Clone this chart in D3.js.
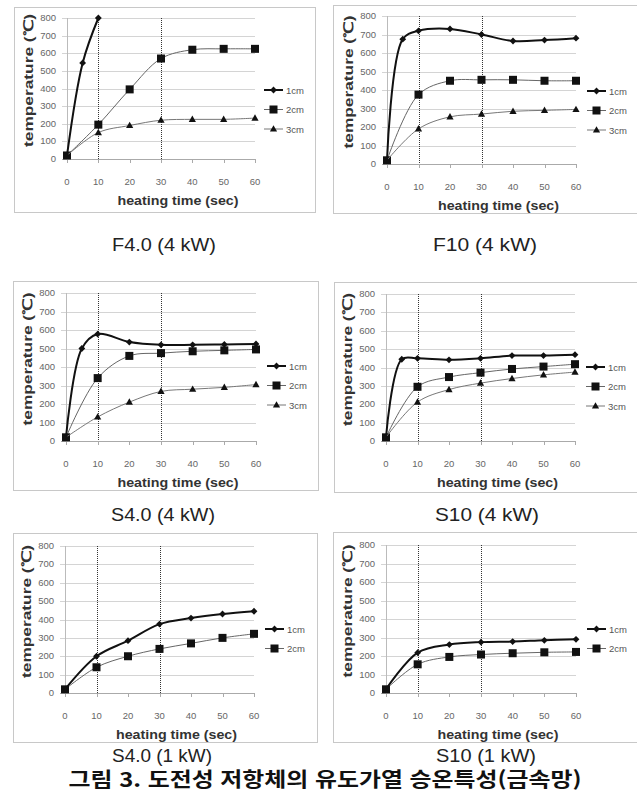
<!DOCTYPE html>
<html lang="ko">
<head>
<meta charset="UTF-8">
<title>도전성 저항체의 유도가열 승온특성</title>
<script src="https://cdnjs.cloudflare.com/ajax/libs/d3/7.8.5/d3.min.js"></script>
<style>
    body { margin: 0; background: #fff; }
    svg { display: block; }
    .tick-label { font-family: "Liberation Sans", Arial, sans-serif; font-size: 9.5px; fill: #666; }
    .axis-title { font-family: "Liberation Sans", Arial, sans-serif; font-size: 12.5px; font-weight: bold; fill: #333; }
    .legend-label { font-family: "Liberation Sans", Arial, sans-serif; font-size: 9.5px; fill: #555; }
    .caption { font-family: "Liberation Sans", Arial, sans-serif; font-size: 18px; fill: #222; }
</style>
</head>
<body>
<svg id="chart" width="637" height="792"></svg>
<script>
    // time axis (sec)
    var timesFast = [0, 5, 10, 20, 30, 40, 50, 60];
    var times = [0, 10, 20, 30, 40, 50, 60];
    var yTicks = [0, 100, 200, 300, 400, 500, 600, 700, 800];
    var xTicks = [0, 10, 20, 30, 40, 50, 60];
    var seriesNames = ["1cm", "2cm", "3cm"];

    // F4.0 (4 kW)
    var f40_4kw_1cm = [20, 545, 800];
    var f40_4kw_2cm = [20, 195, 395, 570, 620, 625, 625];
    var f40_4kw_3cm = [20, 150, 190, 220, 225, 225, 232];
    // F10 (4 kW)
    var f10_4kw_1cm = [20, 675, 720, 730, 700, 665, 670, 680];
    var f10_4kw_2cm = [20, 375, 450, 455, 455, 450, 450];
    var f10_4kw_3cm = [20, 190, 255, 270, 285, 290, 295];
    // S4.0 (4 kW)
    var s40_4kw_1cm = [20, 500, 578, 535, 520, 520, 522, 525];
    var s40_4kw_2cm = [20, 340, 460, 475, 485, 490, 495];
    var s40_4kw_3cm = [20, 130, 210, 268, 280, 290, 305];
    // S10 (4 kW)
    var s10_4kw_1cm = [20, 445, 450, 442, 450, 465, 465, 470];
    var s10_4kw_2cm = [20, 295, 348, 372, 392, 405, 418];
    var s10_4kw_3cm = [20, 212, 280, 315, 340, 360, 375];
    // S4.0 (1 kW)
    var s40_1kw_1cm = [20, 200, 285, 375, 408, 430, 445];
    var s40_1kw_2cm = [20, 140, 200, 240, 270, 300, 322];
    // S10 (1 kW)
    var s10_1kw_1cm = [20, 218, 262, 275, 278, 285, 290];
    var s10_1kw_2cm = [20, 155, 195, 208, 215, 220, 222];

    var svg = d3.select("#chart");

    function pts(xs, ys) {
        return ys.map(function (v, i) { return [xs[i], v]; });
    }

    // each panel: frame box, plot range in pixels, legend spot, caption
    var panels = [
        {box: [14, 7, 301, 205], px: [67, 255], py: [159, 18], leg: [264, 90],
            cap: "F4.0  (4 kW)", capPos: [164, 251],
            series: [pts(timesFast, f40_4kw_1cm), pts(times, f40_4kw_2cm), pts(times, f40_4kw_3cm)]},
        {box: [333, 5, 310, 208], px: [387, 576], py: [164, 16], leg: [587, 91],
            cap: "F10  (4 kW)", capPos: [485, 251],
            series: [pts(timesFast, f10_4kw_1cm), pts(times, f10_4kw_2cm), pts(times, f10_4kw_3cm)]},
        {box: [13, 281, 305, 209], px: [66, 256], py: [441, 293], leg: [267, 366],
            cap: "S4.0  (4 kW)", capPos: [163, 521],
            series: [pts(timesFast, s40_4kw_1cm), pts(times, s40_4kw_2cm), pts(times, s40_4kw_3cm)]},
        {box: [334, 282, 310, 210], px: [386, 575], py: [441, 294], leg: [586, 367],
            cap: "S10  (4 kW)", capPos: [487, 521],
            series: [pts(timesFast, s10_4kw_1cm), pts(times, s10_4kw_2cm), pts(times, s10_4kw_3cm)]},
        {box: [13, 533, 304, 209], px: [65, 254], py: [693, 546], leg: [265, 629],
            cap: "S4.0  (1 kW)", capPos: [162, 762], tall: true,
            series: [pts(times, s40_1kw_1cm), pts(times, s40_1kw_2cm)]},
        {box: [333, 532, 310, 210], px: [386, 576], py: [693, 545], leg: [587, 629],
            cap: "S10  (1 kW)", capPos: [486, 762], tall: true,
            series: [pts(times, s10_1kw_1cm), pts(times, s10_1kw_2cm)]}
    ];

    var lineStyles = [
        {stroke: "#111", width: 2},
        {stroke: "#666", width: 1},
        {stroke: "#777", width: 1}
    ];

    function marker(g, kind, x, y) {
        if (kind === 0) {
            g.append("path").attr("d", "M" + x + "," + (y - 3.4) + "L" + (x + 3.4) + "," + y +
                "L" + x + "," + (y + 3.4) + "L" + (x - 3.4) + "," + y + "Z").attr("fill", "#111");
        } else if (kind === 1) {
            g.append("rect").attr("x", x - 4).attr("y", y - 4).attr("width", 8).attr("height", 8)
                .attr("fill", "#111");
        } else {
            g.append("path").attr("d", "M" + x + "," + (y - 3.8) + "L" + (x + 3.6) + "," + (y + 2.6) +
                "L" + (x - 3.6) + "," + (y + 2.6) + "Z").attr("fill", "#111");
        }
    }

    panels.forEach(function (p) {
        var g = svg.append("g");

        g.append("rect")
            .attr("x", p.box[0] + 0.5).attr("y", p.box[1] + 0.5)
            .attr("width", p.box[2]).attr("height", p.box[3])
            .attr("fill", "none").attr("stroke", "#c8c8c8");

        var x = d3.scaleLinear().domain([0, 60]).range(p.px);
        var y = d3.scaleLinear().domain([0, 800]).range(p.py);

        // horizontal gridlines
        g.selectAll(".grid").data(yTicks).enter().append("line")
            .attr("x1", p.px[0] - 5).attr("x2", p.px[1])
            .attr("y1", function (d) { return Math.round(y(d)) + 0.5; })
            .attr("y2", function (d) { return Math.round(y(d)) + 0.5; })
            .attr("stroke", function (d) { return d === 0 ? "#aaa" : "#d4d4d4"; });

        // y axis line
        g.append("line")
            .attr("x1", Math.round(x(0)) + 0.5).attr("x2", Math.round(x(0)) + 0.5)
            .attr("y1", y(800)).attr("y2", y(0))
            .attr("stroke", "#bbb");

        // x ticks
        g.selectAll(".xt").data(xTicks).enter().append("line")
            .attr("x1", function (d) { return Math.round(x(d)) + 0.5; })
            .attr("x2", function (d) { return Math.round(x(d)) + 0.5; })
            .attr("y1", y(0)).attr("y2", y(0) + 4)
            .attr("stroke", "#aaa");

        // dotted vertical markers at 10 and 30 sec
        g.selectAll(".vline").data([10, 30]).enter().append("line")
            .attr("x1", function (d) { return Math.round(x(d)) + 0.5; })
            .attr("x2", function (d) { return Math.round(x(d)) + 0.5; })
            .attr("y1", y(800)).attr("y2", y(0))
            .attr("stroke", "#333").attr("stroke-dasharray", "1,1");

        g.selectAll(".yl").data(yTicks).enter().append("text")
            .attr("class", "tick-label")
            .attr("x", p.px[0] - 11).attr("y", function (d) { return y(d) + 3; })
            .attr("text-anchor", "end")
            .text(function (d) { return d; });

        g.selectAll(".xl").data(xTicks).enter().append("text")
            .attr("class", "tick-label")
            .attr("x", function (d) { return x(d); }).attr("y", y(0) + 26)
            .attr("text-anchor", "middle")
            .text(function (d) { return d; });

        g.append("text").attr("class", "axis-title")
            .attr("x", (p.px[0] + p.px[1]) / 2 + 17).attr("y", y(0) + 46)
            .attr("text-anchor", "middle")
            .attr("textLength", 121).attr("lengthAdjust", "spacingAndGlyphs")
            .text("heating time  (sec)");

        var midY = (p.py[0] + p.py[1]) / 2 - 8;
        g.append("text").attr("class", "axis-title")
            .attr("transform", "translate(" + (p.px[0] - 34) + "," + midY + ") rotate(-90)")
            .attr("text-anchor", "middle")
            .attr("textLength", 133).attr("lengthAdjust", "spacingAndGlyphs")
            .text("temperature  (\u2103)");

        var line = d3.line()
            .x(function (d) { return x(d[0]); })
            .y(function (d) { return y(d[1]); })
            .curve(d3.curveCatmullRom.alpha(0.5));

        p.series.forEach(function (s, i) {
            g.append("path").attr("d", line(s))
                .attr("fill", "none")
                .attr("stroke", lineStyles[i].stroke)
                .attr("stroke-width", lineStyles[i].width);
            s.forEach(function (d) { marker(g, i, x(d[0]), y(d[1])); });

            // legend entry
            var ly = p.leg[1] + i * 19.5;
            g.append("line")
                .attr("x1", p.leg[0]).attr("x2", p.leg[0] + 19)
                .attr("y1", ly).attr("y2", ly)
                .attr("stroke", lineStyles[i].stroke)
                .attr("stroke-width", lineStyles[i].width);
            marker(g, i, p.leg[0] + 9.5, ly);
            g.append("text").attr("class", "legend-label")
                .attr("x", p.leg[0] + 22).attr("y", ly + 3.5)
                .text(seriesNames[i]);
        });

        var cap = g.append("text").attr("class", "caption")
            .attr("x", p.capPos[0]).attr("y", p.capPos[1])
            .attr("text-anchor", "middle")
            .attr("textLength", 104).attr("lengthAdjust", "spacingAndGlyphs")
            .text(p.cap);
        if (p.tall) {
            cap.style("font-size", "19px").attr("textLength", 100);
        }
    });

    svg.append("text")
        .attr("x", 325).attr("y", 787)
        .attr("text-anchor", "middle")
        .attr("textLength", 513).attr("lengthAdjust", "spacingAndGlyphs")
        .style("font-family", "'Noto Sans CJK KR', sans-serif")
        .style("font-size", "20px").style("font-weight", "bold").style("fill", "#111")
        .text("그림 3. 도전성 저항체의 유도가열 승온특성(금속망)");
</script>
</body>
</html>
